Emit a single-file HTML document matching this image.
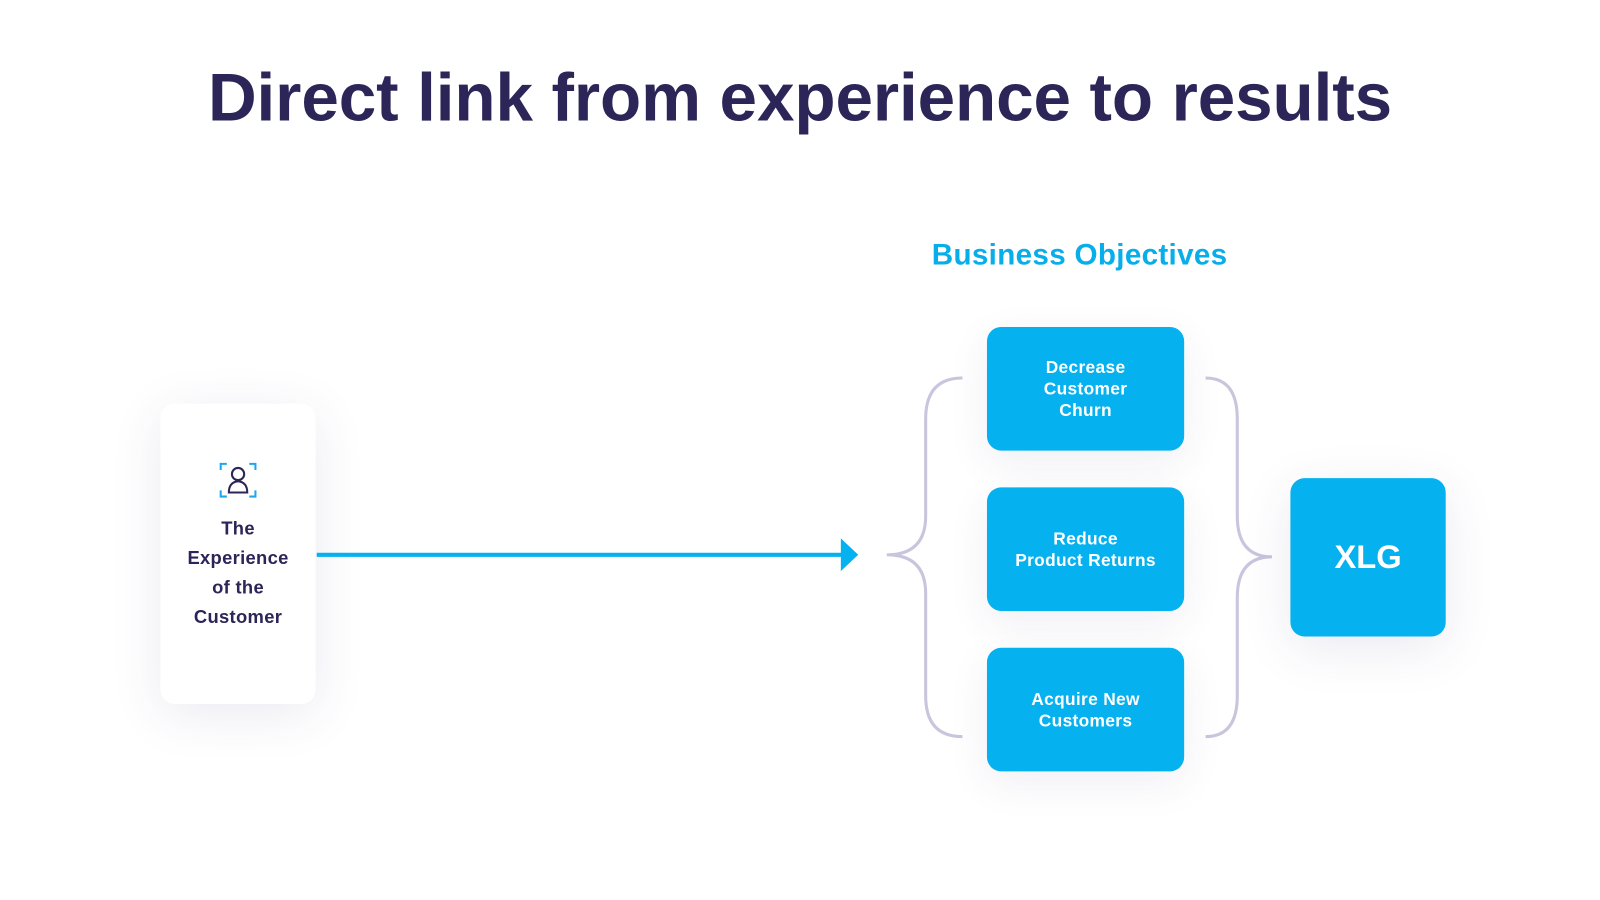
<!DOCTYPE html>
<html><head><style>
body{margin:0;width:1600px;height:900px;background:#fff;position:relative;overflow:hidden;font-family:"Liberation Sans",sans-serif}
#w{position:absolute;left:0;top:0;width:1566px;height:881px;transform:scale(1.0217);transform-origin:0 0}
.t{position:absolute;left:0;width:1566px;top:57px;text-align:center;font-size:66px;font-weight:bold;color:#2b2558;letter-spacing:-0.1px}
.bo{position:absolute;left:912px;top:234px;font-size:29px;font-weight:bold;color:#08aeea;letter-spacing:0.3px}
.card{position:absolute;left:157px;top:395px;width:152px;height:294px;background:#fff;border-radius:14px;box-shadow:0 10px 50px rgba(60,50,120,0.10)}
.ct{position:absolute;left:157px;width:152px;top:503px;text-align:center;font-size:18px;font-weight:bold;color:#2b2558;line-height:29px;letter-spacing:0.3px}
.b{position:absolute;left:966px;width:193px;height:121px;background:#05b1ef;border-radius:14px;color:#fff;font-weight:bold;font-size:17px;display:flex;align-items:center;justify-content:center;text-align:center;line-height:21px;letter-spacing:0.3px;box-shadow:0 12px 40px rgba(60,50,120,0.08)}
.x{position:absolute;left:1263px;top:468px;width:152px;height:155px;background:#05b1ef;border-radius:14px;color:#fff;font-weight:bold;font-size:32px;display:flex;align-items:center;justify-content:center;box-shadow:0 12px 50px rgba(60,50,120,0.10)}
</style></head><body><div id="w">
<div class="t">Direct link from experience to results</div>
<div class="bo">Business Objectives</div>
<div class="card"></div>
<svg style="position:absolute;left:0;top:0" width="1566" height="881">
<g fill="none" stroke-width="2">
<path d="M216 460v-6h6M244 454h6v6M216 480v6h6M244 486h6v-6" stroke="#1aa9ee"/>
<circle cx="233" cy="464" r="6" stroke="#2b2558"/>
<path d="M224 482 q0-10 9-11 q9 1 9 11z" stroke="#2b2558"/>
<path d="M942 370 q-36 0 -36 40 v95 q0 38 -38 38 q38 0 38 38 v100 q0 40 36 40" stroke="#c9c5dd" stroke-width="3"/>
<path d="M1180 370 q31 0 31 40 v95 q0 40 34 40 q-34 0 -34 40 v96 q0 40 -31 40" stroke="#c9c5dd" stroke-width="3"/>
</g>
<line x1="310" y1="543" x2="826" y2="543" stroke="#05b1ef" stroke-width="4"/>
<polygon points="823,527 840,543 823,559" fill="#05b1ef"/>
</svg>
<div class="ct">The<br>Experience<br>of the<br>Customer</div>
<div class="b" style="top:320px">Decrease<br>Customer<br>Churn</div>
<div class="b" style="top:477px">Reduce<br>Product Returns</div>
<div class="b" style="top:634px">Acquire New<br>Customers</div>
<div class="x">XLG</div>
</div></body></html>
